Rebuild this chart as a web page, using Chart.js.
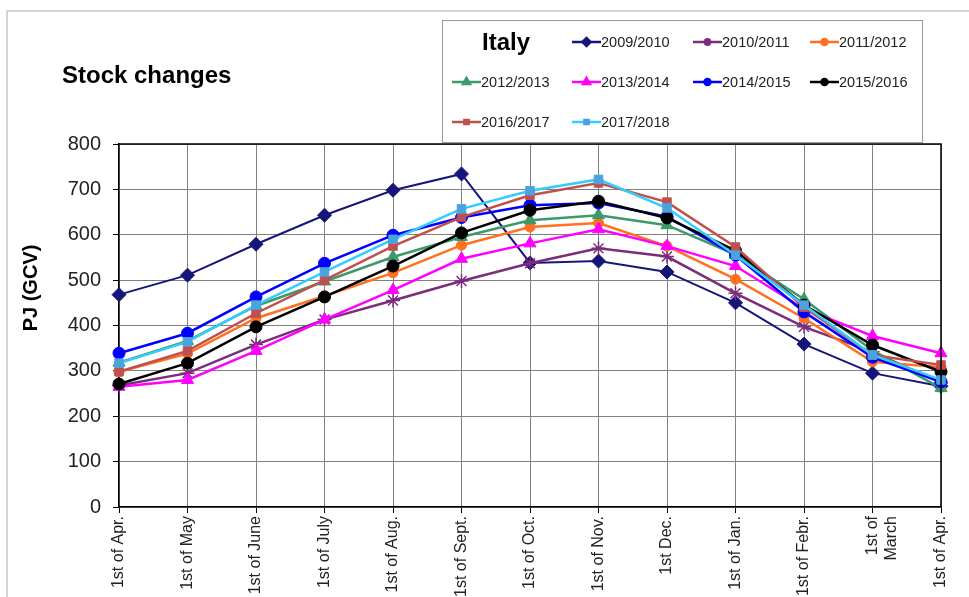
<!DOCTYPE html>
<html>
<head>
<meta charset="utf-8">
<script src="https://cdn.jsdelivr.net/npm/chart.js"></script>
<style>
  html, body { margin: 0; padding: 0; background: #fff; }
  #wrap { position: relative; width: 969px; height: 597px; overflow: hidden; }
</style>
</head>
<body>
<div id="wrap"><canvas id="stockChart" width="969" height="597"></canvas></div>
<script>
// ==============================
// Data (PJ, GCV)
// ==============================
const months = ["1st of Apr.", "1st of May", "1st of June", "1st of July", "1st of Aug.",
  "1st of Sept.", "1st of Oct.", "1st of Nov.", "1st Dec.", "1st of Jan.",
  "1st of Febr.", ["1st of", "March"], "1st of Apr."];

const s2009 = [468, 511, 579, 643, 698, 734, 538, 542, 518, 450, 359, 295, 266];
const s2010 = [268, 295, 358, 413, 455, 498, 537, 570, 552, 471, 397, 342, 274];
const s2011 = [298, 338, 416, 465, 516, 577, 617, 626, 575, 502, 416, 320, 308];
const s2012 = [318, 366, 443, 497, 551, 595, 632, 643, 621, 556, 458, 345, 262];
const s2013 = [265, 280, 344, 413, 478, 547, 581, 612, 575, 531, 437, 377, 339];
const s2014 = [339, 383, 463, 537, 599, 638, 665, 670, 640, 555, 430, 330, 276];
const s2015 = [271, 317, 397, 463, 531, 604, 654, 674, 637, 565, 445, 357, 298];
const s2016 = [298, 344, 427, 500, 575, 639, 687, 714, 672, 573, 440, 335, 313];
const s2017 = [317, 364, 445, 518, 590, 657, 697, 722, 659, 555, 445, 335, 280];

const seriesNames = ["2009/2010", "2010/2011", "2011/2012", "2012/2013", "2013/2014",
  "2014/2015", "2015/2016", "2016/2017", "2017/2018"];
const seriesData = [s2009, s2010, s2011, s2012, s2013, s2014, s2015, s2016, s2017];
const yTicks = [0, 100, 200, 300, 400, 500, 600, 700, 800];

// styles per series
const lineColors = ["#16167a", "#7b2c7b", "#ff7020", "#3c9a6a", "#ff00ff", "#0000ff", "#000000", "#c0504d", "#33ccff"];
const markColors = ["#16167a", "#7b2c7b", "#ff7020", "#3c9a6a", "#ff00ff", "#0000ff", "#000000", "#c0504d", "#4aa3df"];
const markStyles = ["rectRot", "star", "circle", "triangle", "triangle", "circle", "circle", "rect", "rect"];
const markSizes = [7, 7, 5, 7, 7, 6, 6, 6, 6];

const FONT = "Arial, 'Liberation Sans', sans-serif";

const datasets = seriesNames.map((name, i) => ({
  label: name,
  data: seriesData[i],
  borderColor: lineColors[i],
  backgroundColor: markColors[i],
  pointBorderColor: markColors[i],
  pointBackgroundColor: markColors[i],
  pointStyle: markStyles[i],
  pointRadius: markSizes[i],
  pointHoverRadius: markSizes[i],
  pointBorderWidth: markStyles[i] === "star" ? 1.5 : 1,
  borderWidth: i === 0 ? 2 : 2.5,
  tension: 0,
  fill: false,
  clip: false,
  order: seriesNames.length - i, // later seasons on top, like the original
}));

// ==============================
// Title, axis title, legend box and frame
// ==============================
const overlay = {
  id: "overlay",
  afterDraw(chart) {
    const ctx = chart.ctx;
    const a = chart.chartArea;
    ctx.save();

    // outer frame
    ctx.strokeStyle = "#c8c8c8";
    ctx.lineWidth = 1.5;
    ctx.beginPath();
    ctx.moveTo(7, 597);
    ctx.lineTo(7, 11);
    ctx.lineTo(969, 11);
    ctx.stroke();

    // plot border top / right
    ctx.strokeStyle = "#000";
    ctx.lineWidth = 1.5;
    ctx.beginPath();
    ctx.moveTo(a.left, a.top);
    ctx.lineTo(a.right, a.top);
    ctx.lineTo(a.right, a.bottom);
    ctx.stroke();

    // chart title
    ctx.fillStyle = "#000";
    ctx.font = "bold 24px " + FONT;
    ctx.textAlign = "left";
    ctx.textBaseline = "alphabetic";
    ctx.fillText("Stock changes", 62, 83);

    // y axis title
    ctx.save();
    ctx.translate(37, 288);
    ctx.rotate(-Math.PI / 2);
    ctx.font = "bold 20px " + FONT;
    ctx.textAlign = "center";
    ctx.textBaseline = "alphabetic";
    ctx.fillText("PJ (GCV)", 0, 0);
    ctx.restore();

    // legend box
    ctx.fillStyle = "#fff";
    ctx.fillRect(442, 20, 480, 122);
    ctx.strokeStyle = "#9a9a9a";
    ctx.lineWidth = 1;
    ctx.strokeRect(442.5, 20.5, 480, 122);

    ctx.fillStyle = "#000";
    ctx.font = "bold 24px " + FONT;
    ctx.textBaseline = "middle";
    ctx.fillText("Italy", 482, 43);

    const cols = [452, 572, 693, 810];
    const rows = [42, 82, 122];
    ctx.font = "14.5px " + FONT;
    chart.data.datasets.forEach((ds, i) => {
      const slot = i + 1; // first slot holds "Italy"
      const x = cols[slot % 4];
      const y = rows[Math.floor(slot / 4)];
      ctx.strokeStyle = ds.borderColor;
      ctx.lineWidth = 2.5;
      ctx.beginPath();
      ctx.moveTo(x, y);
      ctx.lineTo(x + 29, y);
      ctx.stroke();
      if (Chart.helpers && Chart.helpers.drawPoint) {
        ctx.fillStyle = ds.pointBackgroundColor;
        ctx.strokeStyle = ds.pointBorderColor;
        Chart.helpers.drawPoint(ctx, {
          pointStyle: ds.pointStyle,
          radius: Math.max(3, ds.pointRadius - 3),
          rotation: 0,
          borderWidth: 1,
        }, x + 14.5, y);
      }
      ctx.fillStyle = "#222";
      ctx.textAlign = "left";
      ctx.textBaseline = "middle";
      ctx.fillText(ds.label, x + 29, y + 1);
    });

    ctx.restore();
  },
};

// ==============================
// Chart
// ==============================
const ctx = document.getElementById("stockChart").getContext("2d");
new Chart(ctx, {
  type: "line",
  data: { labels: months, datasets: datasets },
  plugins: [overlay],
  options: {
    responsive: false,
    animation: false,
    events: [],
    layout: { padding: { top: 144, right: 28, left: 0, bottom: 0 } },
    plugins: {
      legend: { display: false },
      title: { display: false },
      tooltip: { enabled: false },
    },
    scales: {
      x: {
        offset: false,
        grid: { color: "#808080", lineWidth: 1, tickColor: "#000", tickLength: 6 },
        border: { color: "#000", width: 1.5 },
        ticks: {
          color: "#222",
          font: { family: FONT, size: 16 },
          minRotation: 90,
          maxRotation: 90,
          autoSkip: false,
          padding: 3,
        },
        afterFit(scale) { scale.height = 90; },
      },
      y: {
        min: yTicks[0],
        max: yTicks[yTicks.length - 1],
        afterBuildTicks(scale) { scale.ticks = yTicks.map((v) => ({ value: v })); },
        grid: { color: "#808080", lineWidth: 1, tickColor: "#000", tickLength: 6 },
        border: { color: "#000", width: 1.5 },
        ticks: {
          color: "#222",
          font: { family: FONT, size: 20 },
          padding: 12,
        },
        afterFit(scale) { scale.width = 119; },
      },
    },
  },
});
</script>
</body>
</html>
